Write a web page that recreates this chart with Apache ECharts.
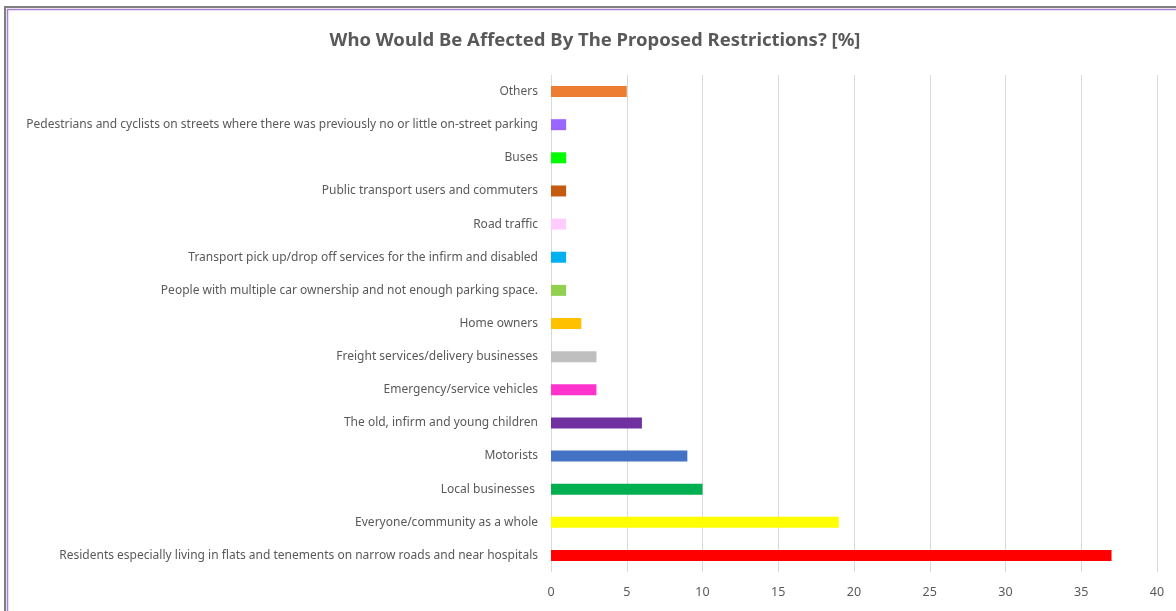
<!DOCTYPE html>
<html>
<head>
<meta charset="utf-8">
<title>Who Would Be Affected By The Proposed Restrictions?</title>
<script src="https://cdn.jsdelivr.net/npm/echarts@6/dist/echarts.min.js"></script>
<style>
  html, body { margin: 0; padding: 0; background: #ffffff; }
  #chart { width: 1176px; height: 611px; }
</style>
</head>
<body>
<div id="chart"></div>
<script>
// Categories listed bottom-to-top (category axis order)
const categories = [
  'Residents especially living in flats and tenements on narrow roads and near hospitals',
  'Everyone/community as a whole',
  'Local businesses ',
  'Motorists',
  'The old, infirm and young children',
  'Emergency/service vehicles',
  'Freight services/delivery businesses',
  'Home owners',
  'People with multiple car ownership and not enough parking space.',
  'Transport pick up/drop off services for the infirm and disabled',
  'Road traffic',
  'Public transport users and commuters',
  'Buses',
  'Pedestrians and cyclists on streets where there was previously no or little on-street parking',
  'Others'
];
const values = [37, 19, 10, 9, 6, 3, 3, 2, 1, 1, 1, 1, 1, 1, 5];
const barColors = [
  '#FF0000', '#FFFF00', '#00B050', '#4472C4', '#7030A0', '#FF33CC', '#BFBFBF',
  '#FFC000', '#92D050', '#00B0F0', '#FFCCFF', '#C55A11', '#00FF00', '#9966FF', '#ED7D31'
];
const xTicks = { min: 0, max: 40, interval: 5 };

const labelFont = "'Noto Sans', sans-serif";

const chart = echarts.init(document.getElementById('chart'), null, { renderer: 'canvas' });
chart.setOption({
  animation: false,
  backgroundColor: '#ffffff',
  title: {
    text: 'Who Would Be Affected By The Proposed Restrictions? [%]',
    left: 590,
    textAlign: 'center',
    top: 26,
    textStyle: { fontFamily: labelFont, fontSize: 18.5, fontWeight: 'bold', color: '#595959' }
  },
  graphic: [
    { type: 'rect', shape: { x: 5, y: 7, width: 1300, height: 700 },
      style: { fill: 'none', stroke: '#7f7f7f', lineWidth: 2 }, silent: true },
    { type: 'rect', shape: { x: 7.5, y: 9.5, width: 1300, height: 700 },
      style: { fill: 'none', stroke: '#a77fd0', lineWidth: 1.5 }, silent: true }
  ],
  grid: {
    left: 551, right: 19, top: 75, bottom: 39,
    containLabel: false,
    outerBoundsMode: 'none'
  },
  xAxis: {
    type: 'value',
    min: xTicks.min, max: xTicks.max, interval: xTicks.interval,
    axisLine: { show: false },
    axisTick: { show: false },
    splitLine: { show: true, lineStyle: { color: '#d9d9d9', width: 1 } },
    axisLabel: { color: '#595959', fontFamily: labelFont, fontSize: 12.5, margin: 14 }
  },
  yAxis: {
    type: 'category',
    data: categories,
    axisLine: { show: false },
    axisTick: { show: false },
    axisLabel: { color: '#595959', fontFamily: labelFont, fontSize: 12, margin: 13 }
  },
  series: [{
    type: 'bar',
    data: values.map((v, i) => ({ value: v, itemStyle: { color: barColors[i] } })),
    barWidth: 11
  }]
});
</script>
</body>
</html>
